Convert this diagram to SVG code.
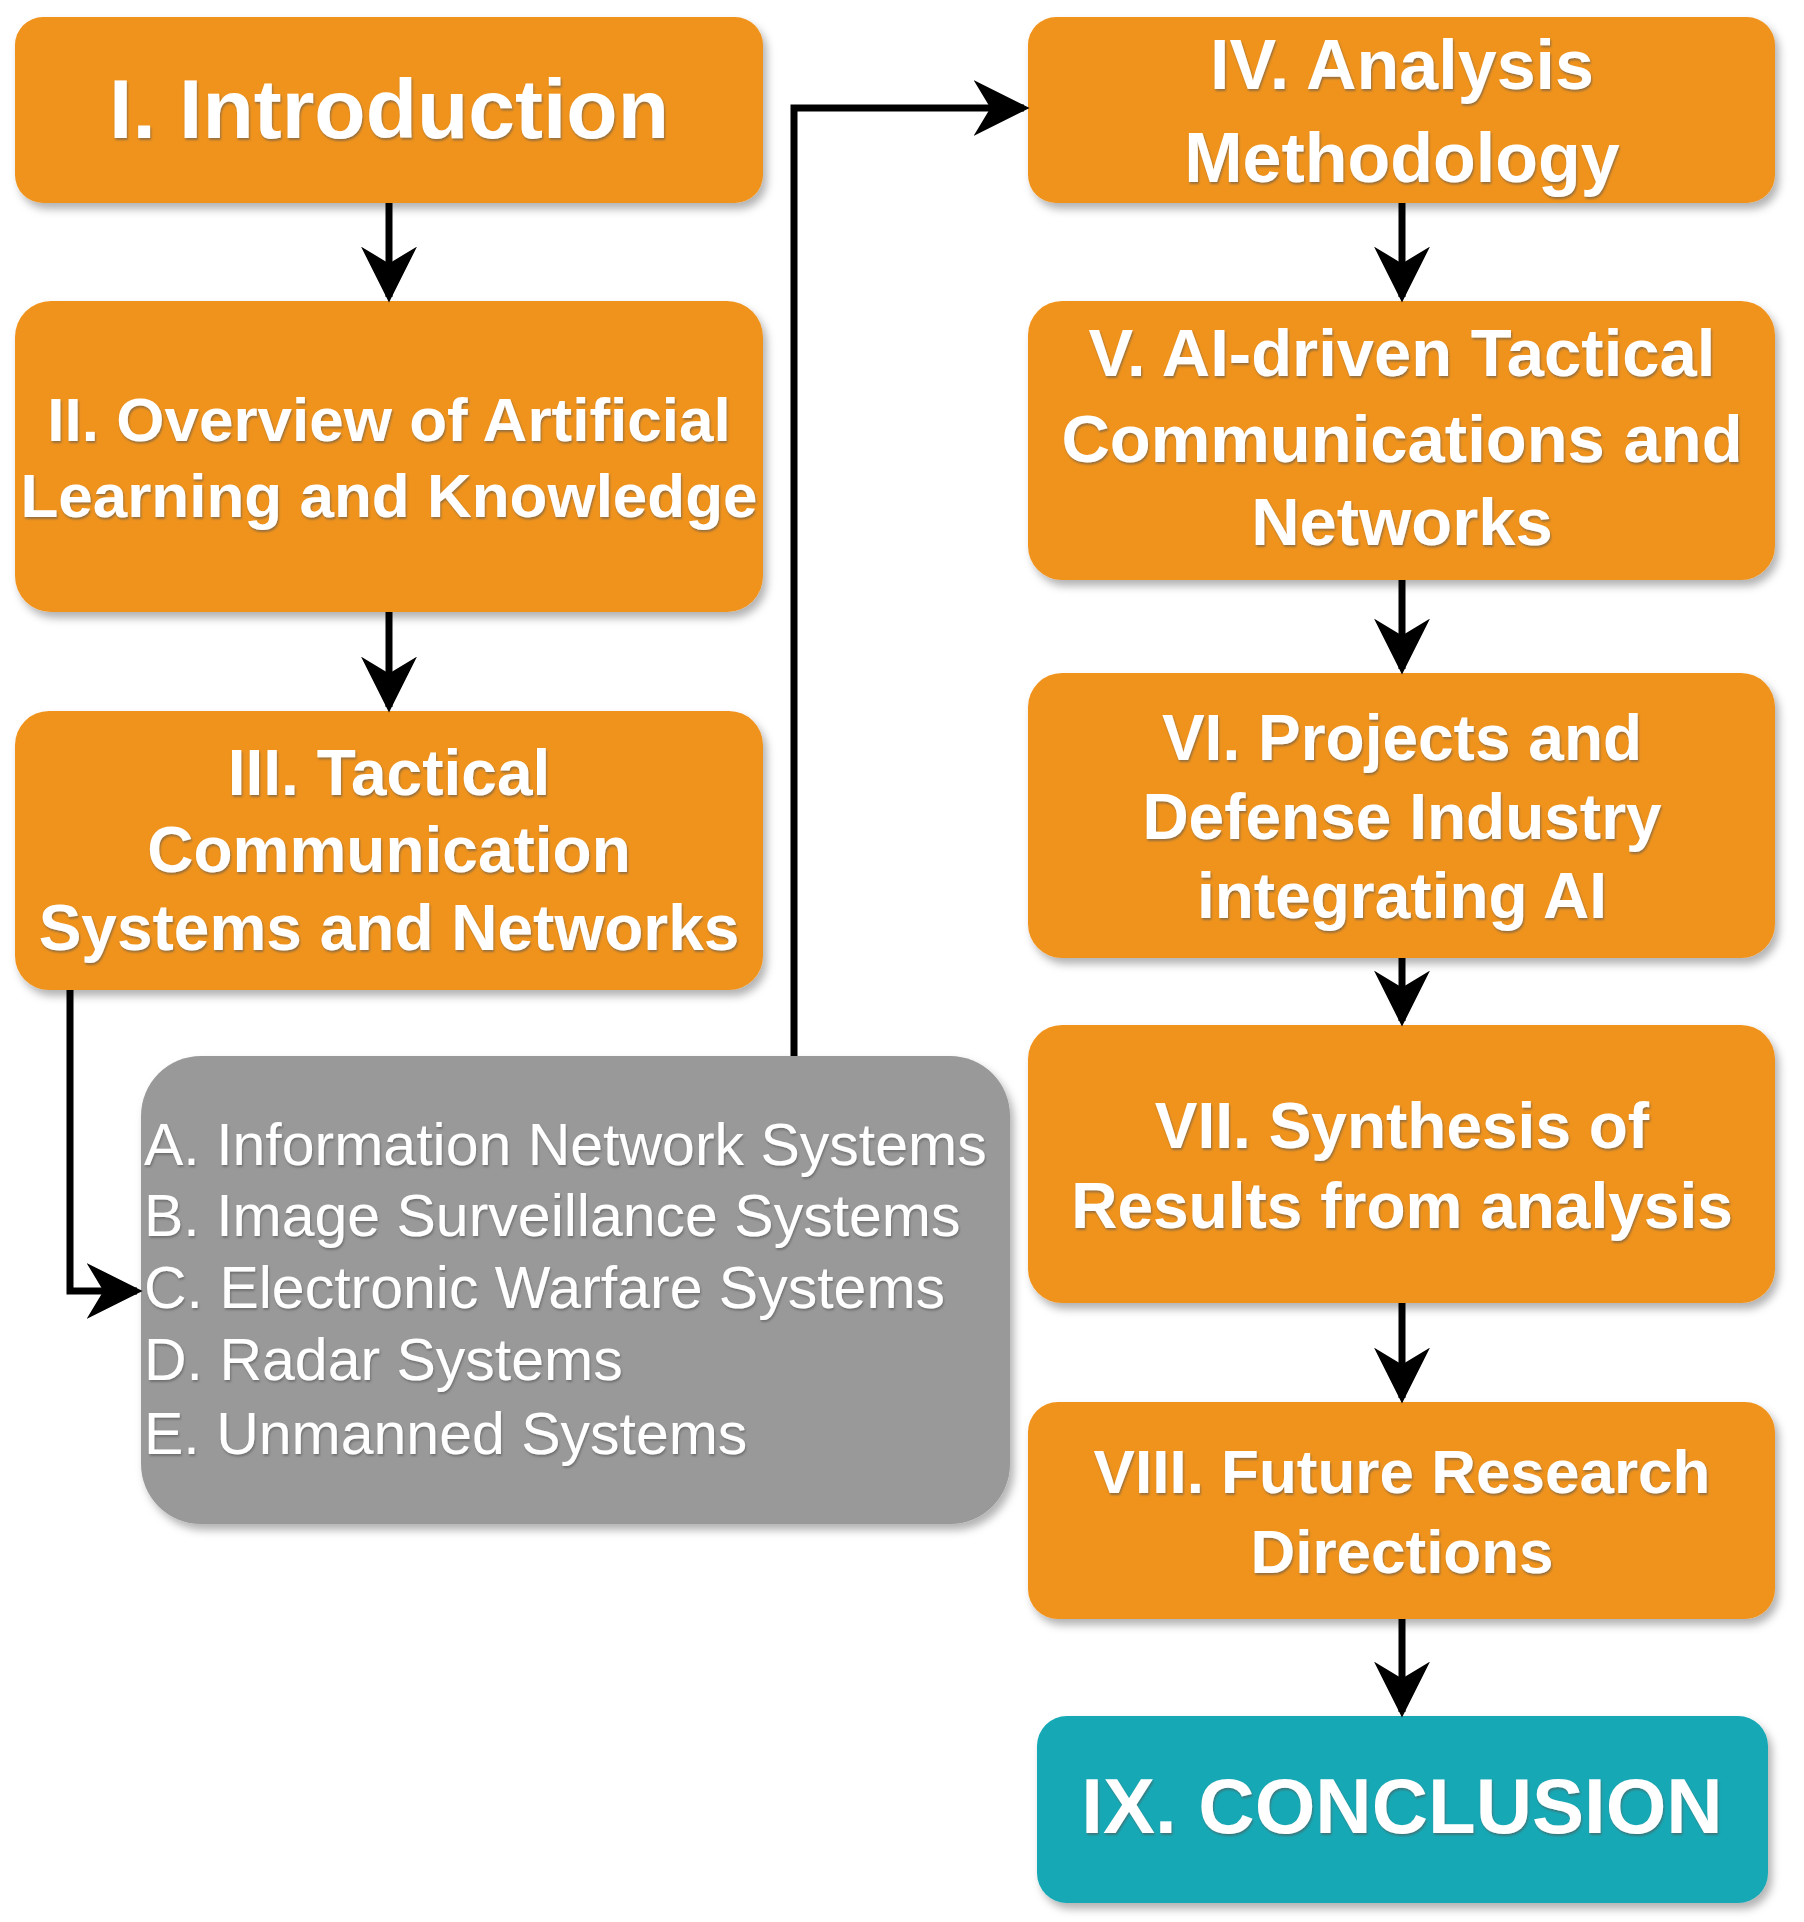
<svg xmlns="http://www.w3.org/2000/svg" width="1804" height="1922" viewBox="0 0 1804 1922">
<defs>
<filter id="sh" x="-5%" y="-5%" width="112%" height="115%"><feDropShadow dx="4" dy="6" stdDeviation="4" flood-color="#000" flood-opacity="0.3"/></filter>
<filter id="ts"><feDropShadow dx="1" dy="2" stdDeviation="1" flood-color="#555" flood-opacity="0.6"/></filter>
<marker id="ah" viewBox="0 0 10 10" refX="9" refY="5" markerWidth="8" markerHeight="9" markerUnits="strokeWidth" orient="auto"><path d="M0,0 L10,5 L0,10 L3,5 z" fill="#000"/></marker>
</defs>
<style>
.o{fill:#F0931F;filter:url(#sh)}
.g{fill:#999999;filter:url(#sh)}
.t{fill:#14A9B5;filter:url(#sh)}
text{font-family:"Liberation Sans",Arial,sans-serif;fill:#fff;filter:url(#ts)}
.b{font-weight:bold;text-anchor:middle}
.c line,.c path{stroke:#000;stroke-width:7;fill:none;marker-end:url(#ah)}
</style>
<g id="n1"><rect class="o" x="15" y="17" width="748" height="186" rx="28"/><text class="b" x="389" y="138" font-size="84">I. Introduction</text></g>
<g id="n2"><rect class="o" x="15" y="301" width="748" height="311" rx="36"/><text class="b" x="389" y="441" font-size="62">II. Overview of Artificial</text><text class="b" x="389" y="517" font-size="62">Learning and Knowledge</text></g>
<g id="n3"><rect class="o" x="15" y="711" width="748" height="279" rx="34"/><text class="b" x="389" y="795" font-size="64">III. Tactical</text><text class="b" x="389" y="872" font-size="64">Communication</text><text class="b" x="389" y="950" font-size="64">Systems and Networks</text></g>
<g id="n3s"><rect class="g" x="141" y="1056" width="869" height="468" rx="60"/>
<text x="144" y="1165" font-size="59">A. Information Network Systems</text>
<text x="144" y="1236" font-size="59">B. Image Surveillance Systems</text>
<text x="144" y="1308" font-size="59">C. Electronic Warfare Systems</text>
<text x="144" y="1380" font-size="59">D. Radar Systems</text>
<text x="144" y="1454" font-size="59">E. Unmanned Systems</text></g>
<g id="n4"><rect class="o" x="1028" y="17" width="747" height="186" rx="28"/><text class="b" x="1402" y="89" font-size="70">IV. Analysis</text><text class="b" x="1402" y="182" font-size="70">Methodology</text></g>
<g id="n5"><rect class="o" x="1028" y="301" width="747" height="279" rx="34"/><text class="b" x="1402" y="376" font-size="67">V. AI-driven Tactical</text><text class="b" x="1402" y="462" font-size="67">Communications and</text><text class="b" x="1402" y="545" font-size="67">Networks</text></g>
<g id="n6"><rect class="o" x="1028" y="673" width="747" height="285" rx="34"/><text class="b" x="1402" y="760" font-size="64">VI. Projects and</text><text class="b" x="1402" y="839" font-size="64">Defense Industry</text><text class="b" x="1402" y="918" font-size="64">integrating AI</text></g>
<g id="n7"><rect class="o" x="1028" y="1025" width="747" height="278" rx="34"/><text class="b" x="1402" y="1148" font-size="64">VII. Synthesis of</text><text class="b" x="1402" y="1228" font-size="64">Results from analysis</text></g>
<g id="n8"><rect class="o" x="1028" y="1402" width="747" height="217" rx="30"/><text class="b" x="1402" y="1493" font-size="62">VIII. Future Research</text><text class="b" x="1402" y="1573" font-size="62">Directions</text></g>
<g id="n9"><rect class="t" x="1037" y="1716" width="731" height="187" rx="30"/><text class="b" x="1402" y="1833" font-size="78">IX. CONCLUSION</text></g>
<g class="c" id="connectors">
<line x1="389" y1="203" x2="389" y2="297"/>
<line x1="389" y1="612" x2="389" y2="707"/>
<path d="M70,990 V1291 H137"/>
<path d="M794,1056 V108 H1024"/>
<line x1="1402" y1="203" x2="1402" y2="297"/>
<line x1="1402" y1="580" x2="1402" y2="669"/>
<line x1="1402" y1="958" x2="1402" y2="1021"/>
<line x1="1402" y1="1303" x2="1402" y2="1398"/>
<line x1="1402" y1="1619" x2="1402" y2="1712"/>
</g>
</svg>
